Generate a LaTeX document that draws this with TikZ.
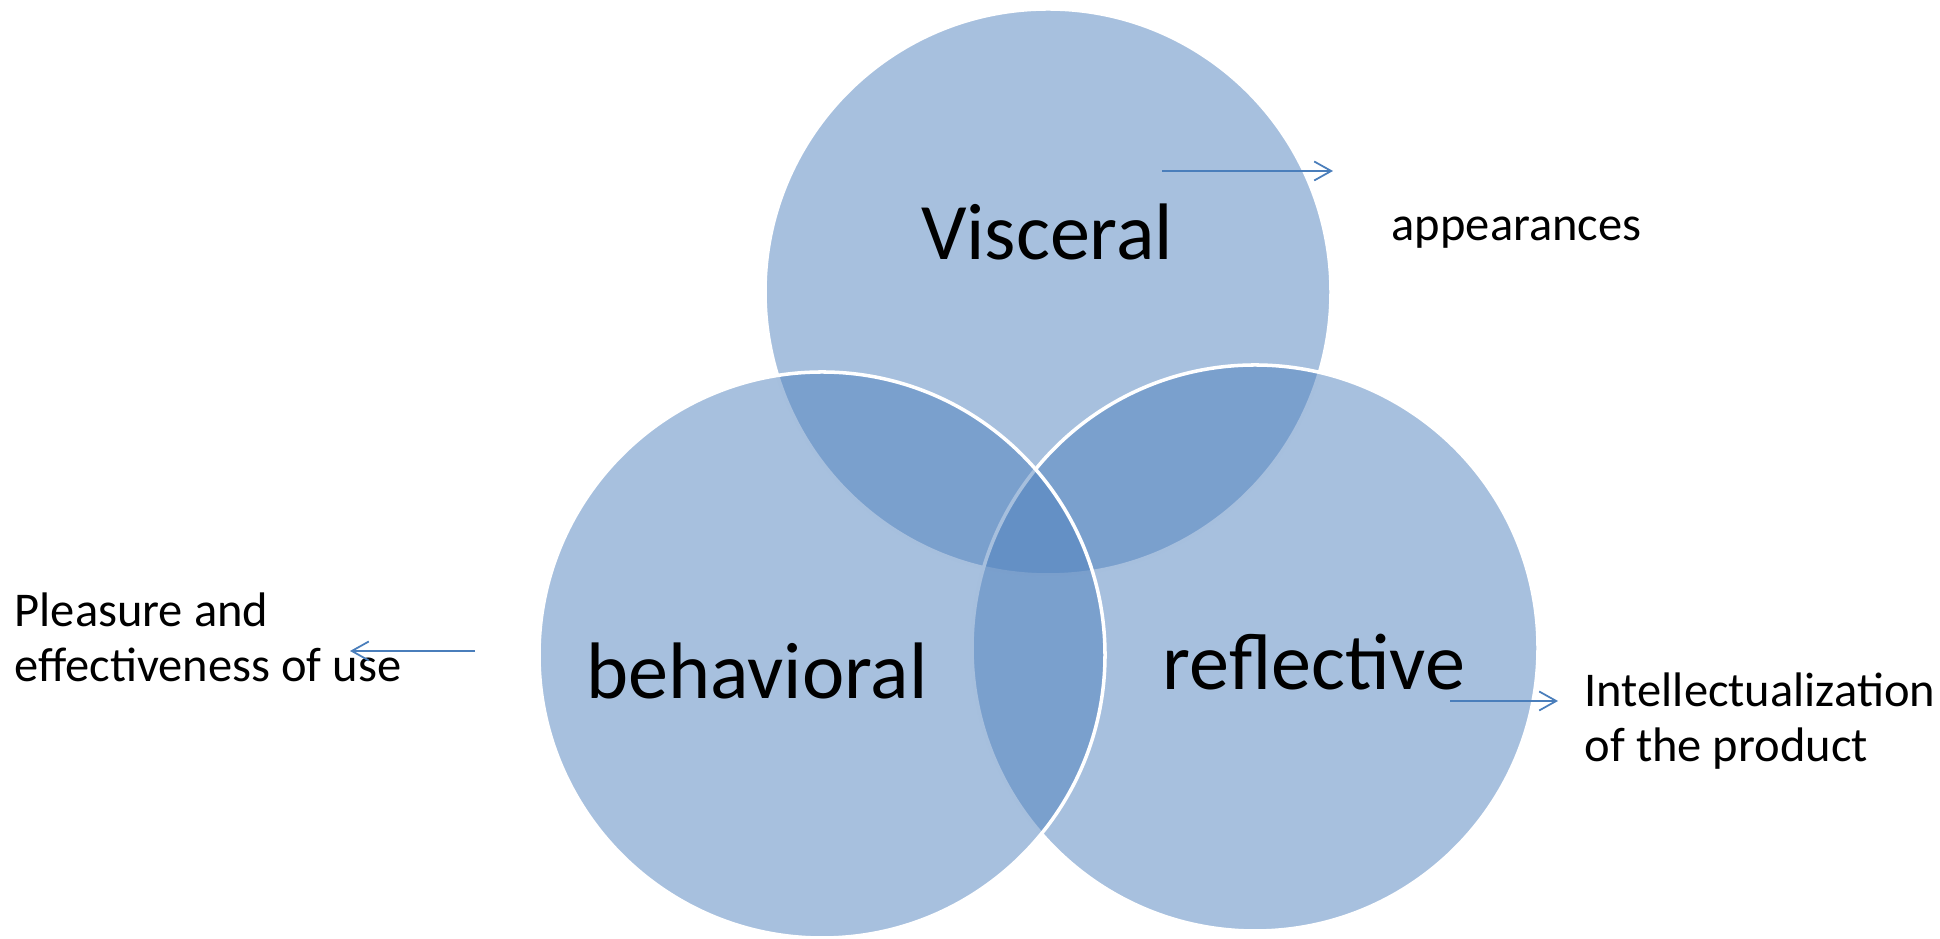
\documentclass[tikz,border=0pt]{standalone}
\usepackage{fontspec}
\setmainfont{Carlito}
\usetikzlibrary{arrows.meta}
\definecolor{vennblue}{HTML}{4F81BD}
\definecolor{linkblue}{HTML}{4A7EBB}

\begin{document}
\begin{tikzpicture}
\tikzstyle{venn}=[fill=vennblue,fill opacity=.5,draw=white,line width=1pt]
\tikzstyle{arrow}=[linkblue,line width=.5pt,-{Straight Barb[length=1.7mm,width=1.9mm]}]
\tikzstyle{level}=[font=\fontsize{22.8}{27}\selectfont,anchor=base,inner sep=0pt]
\tikzstyle{note}=[font=\fontsize{13.8}{15.8}\selectfont,align=left,anchor=base west,inner sep=0pt]

\useasboundingbox (0,0) rectangle (19.4,9.39);
\clip (0,0) rectangle (19.4,9.39);

%circles, top one first so the other two lie over it
\draw[venn] (10.48,6.47) circle (2.83);
\draw[venn] (12.55,2.91) circle (2.83);
\draw[venn] (8.22,2.84) circle (2.83);

%level names
\node[level] (visceral) at (10.47,6.79) {Visceral};
\node[level] (behavioral) at (7.57,2.40) {behavioral};
\node[level] (reflective) at (13.14,2.49) {reflective};

%what each level is about (base = last line)
\node[note] (appear) at (13.91,6.98) {appearances};
\node[note] (pleasure) at (0.14,2.57) {Pleasure and\\effectiveness of use};
\node[note] (intellect) at (15.84,1.77) {Intellectualization\\of the product};

%arrows out of the circles
\coordinate (vis-a) at (11.62,7.68);
\coordinate (vis-b) at (13.33,7.68);
\coordinate (beh-a) at (4.75,2.88);
\coordinate (beh-b) at (3.50,2.88);
\coordinate (ref-a) at (14.50,2.38);
\coordinate (ref-b) at (15.58,2.38);
\draw[arrow] (vis-a) -- (vis-b);
\draw[arrow] (beh-a) -- (beh-b);
\draw[arrow] (ref-a) -- (ref-b);

\end{tikzpicture}
\end{document}
